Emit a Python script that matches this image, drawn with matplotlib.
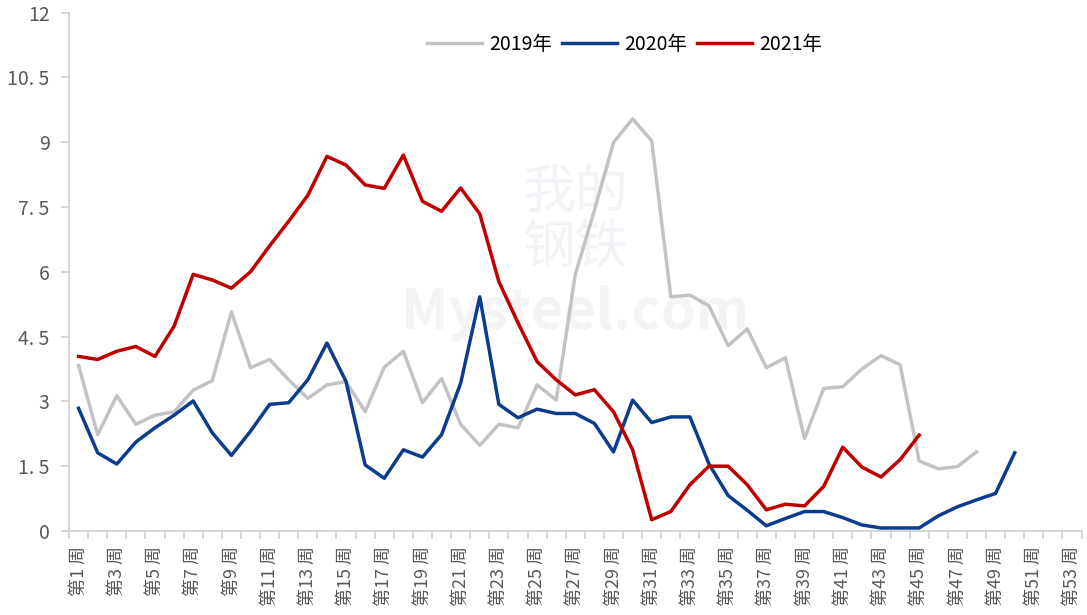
import numpy as np
import matplotlib
matplotlib.use("Agg")
import matplotlib.pyplot as plt

plt.rcParams['font.family'] = ['Noto Sans CJK SC', 'DejaVu Sans']

# datos
weeks = [f"第{i} 周" for i in range(1, 54)]

y2019 = [3.83, 2.23, 3.13, 2.47, 2.68, 2.76, 3.26, 3.48, 5.07, 3.78,
         3.97, 3.50, 3.07, 3.38, 3.46, 2.76, 3.79, 4.16, 2.97, 3.53,
         2.47, 1.98, 2.47, 2.39, 3.38, 3.03, 5.94, 7.42, 8.99, 9.54,
         9.03, 5.42, 5.46, 5.21, 4.29, 4.68, 3.78, 4.01, 2.14, 3.30,
         3.34, 3.75, 4.06, 3.85, 1.62, 1.44, 1.49, 1.83]

y2020 = [2.84, 1.81, 1.55, 2.06, 2.39, 2.68, 3.01, 2.27, 1.75, 2.31,
         2.93, 2.97, 3.50, 4.35, 3.46, 1.53, 1.22, 1.88, 1.71, 2.23,
         3.42, 5.42, 2.93, 2.62, 2.82, 2.72, 2.72, 2.49, 1.83, 3.03,
         2.51, 2.64, 2.64, 1.55, 0.82, 0.48, 0.12, 0.29, 0.45, 0.45,
         0.31, 0.14, 0.07, 0.07, 0.07, 0.35, 0.56, 0.72, 0.87, 1.81]

y2021 = [4.04, 3.97, 4.16, 4.27, 4.04, 4.74, 5.94, 5.81, 5.62, 6.00,
         6.60, 7.17, 7.77, 8.67, 8.47, 8.01, 7.93, 8.70, 7.63, 7.40,
         7.94, 7.34, 5.77, 4.82, 3.92, 3.50, 3.15, 3.27, 2.76, 1.88,
         0.26, 0.45, 1.07, 1.50, 1.50, 1.07, 0.49, 0.62, 0.58, 1.03,
         1.94, 1.48, 1.25, 1.65, 2.22]

yticks = [0, 1.5, 3, 4.5, 6, 7.5, 9, 10.5, 12]
ytick_labels = ["0", "1. 5", "3", "4. 5", "6", "7. 5", "9", "10. 5", "12"]

fig = plt.figure(figsize=(10.87, 6.15), dpi=100)
ax = fig.add_axes([0.0635, 0.1366, 0.9315, 0.843])

ax.plot(range(len(y2019)), y2019, color="#C3C3C3", lw=2.5, label="2019年")
ax.plot(range(len(y2020)), y2020, color="#0B3D8C", lw=2.5, label="2020年")
ax.plot(range(len(y2021)), y2021, color="#C00000", lw=2.5, label="2021年")

# marca de agua
ax.text(0.5, 0.42, "Mysteel.com", transform=ax.transAxes, ha="center",
        va="center", fontsize=40, fontweight="bold", color="#F4F4F4", zorder=0)
ax.text(0.5, 0.6, "我的\n钢铁", transform=ax.transAxes, ha="center",
        va="center", fontsize=38, color="#F3F3F7", zorder=0, linespacing=1.0)

ax.set_xlim(-0.5, 52.5)
ax.set_ylim(0, 12)
ax.set_yticks(yticks)
ax.set_yticklabels(ytick_labels)

ax.set_xticks(range(0, 53, 2))
ax.set_xticklabels(weeks[::2], rotation=90)
ax.set_xticks(np.arange(-0.5, 53, 1), minor=True)

for s in ["top", "right"]:
    ax.spines[s].set_visible(False)
for s in ["left", "bottom"]:
    ax.spines[s].set_color("#D0D0D0")
    ax.spines[s].set_linewidth(1.2)

ax.tick_params(axis="x", which="major", length=0, pad=11, labelsize=13,
               labelcolor="#595959")
ax.tick_params(axis="x", which="minor", length=6, color="#D0D0D0", width=1.2)
ax.tick_params(axis="y", length=6, color="#D0D0D0", width=1.2, pad=8,
               labelsize=14, labelcolor="#595959")

ax.legend(loc="center", bbox_to_anchor=(0.549, 0.938), ncol=3, frameon=False,
          handlelength=2.8, columnspacing=0.5, handletextpad=0.4, fontsize=14)

plt.savefig("out.png", dpi=100)
